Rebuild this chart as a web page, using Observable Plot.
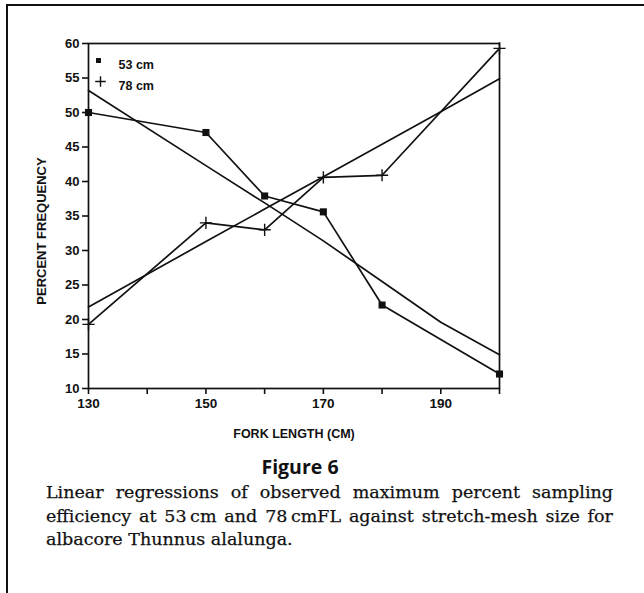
<!DOCTYPE html>
<html>
<head>
<meta charset="utf-8">
<script src="https://cdn.jsdelivr.net/npm/d3@7"></script>
<script src="https://cdn.jsdelivr.net/npm/@observablehq/plot@0.6"></script>
<style>
  html, body { margin: 0; padding: 0; background: #fff; }
  #page { position: relative; width: 644px; height: 593px; overflow: hidden; background: #fff; }
  #frame { position: absolute; left: 6px; top: 4px; width: 640px; height: 600px;
           border-top: 2.5px solid #111; border-left: 2.5px solid #111; }
  #chart { position: absolute; left: 0; top: 0; }
  #fig { position: absolute; left: 200px; width: 200px; top: 454px; text-align: center;
         font-family: "Open Sans", sans-serif; font-weight: bold; font-size: 19.5px; line-height: 26px; color: #111; }
  #caption { position: absolute; left: 46px; width: 567px; top: 481px;
             font-family: "DejaVu Serif", serif; font-size: 17.5px; line-height: 23.5px; color: #111;
             -webkit-text-stroke: 0.25px #111; }
  #caption div { text-align: justify; text-align-last: justify; white-space: nowrap; }
  #caption div.last { text-align-last: left; }
</style>
</head>
<body>
<div id="page">
  <div id="frame"></div>
  <div id="chart"></div>
  <div id="fig">Figure 6</div>
  <div id="caption"></div>
</div>
<script>
// ---- data ----
const lengths = [130, 150, 160, 170, 180, 200];
const obs53 = [50.0, 47.1, 37.9, 35.6, 22.1, 12.1];
const obs78 = [19.3, 34.0, 33.0, 40.6, 40.9, 59.3];
const fitLengths = [130, 150, 160, 170, 180, 190, 200];
const fit53 = [53.2, 42.3, 36.9, 31.4, 25.5, 19.6, 14.9];
const fit78 = [21.8, 31.3, 36.0, 40.7, 45.4, 50.1, 54.9];
const xTicks = [130, 140, 150, 160, 170, 180, 190, 200];
const xTickLabels = [130, 150, 170, 190];
const yTicks = [10, 15, 20, 25, 30, 35, 40, 45, 50, 55, 60];
const seriesNames = ["53 cm", "78 cm"];
const xLabel = "FORK LENGTH (CM)";
const yLabel = "PERCENT FREQUENCY";
const captionLines = [
  "Linear regressions of observed maximum percent sampling",
  "efficiency at 53\u2009cm and 78\u2009cmFL against stretch-mesh size for",
  "albacore Thunnus alalunga."
];

const obs53Data = lengths.map((x, i) => ({x, y: obs53[i]}));
const obs78Data = lengths.map((x, i) => ({x, y: obs78[i]}));
const fit53Data = fitLengths.map((x, i) => ({x, y: fit53[i]}));
const fit78Data = fitLengths.map((x, i) => ({x, y: fit78[i]}));

const ink = "#111";

const chart = Plot.plot({
  width: 644,
  height: 460,
  marginLeft: 88,
  marginRight: 145,
  marginTop: 43,
  marginBottom: 72,
  style: {fontFamily: "'Liberation Sans', Arial, sans-serif", fontSize: "13px", fontWeight: "bold", color: ink, background: "transparent"},
  x: {domain: [130, 200]},
  y: {domain: [10, 60]},
  marks: [
    Plot.frame({stroke: ink, strokeWidth: 1.7}),
    Plot.axisY({ticks: yTicks, tickSize: 6, tickPadding: 3, strokeWidth: 1.6, label: null, fill: ink, fontSize: 13, letterSpacing: "-0.3px"}),
    Plot.axisX({ticks: xTicks, tickSize: 6, tickPadding: 4, strokeWidth: 1.6, label: null, fill: ink, fontSize: 13.5,
                tickFormat: d => xTickLabels.includes(d) ? String(d) : "", letterSpacing: "-0.4px"}),
    Plot.text([xLabel], {frameAnchor: "bottom", textAnchor: "middle", dx: 0, dy: 49, text: d => d, fill: ink, fontSize: 12.5, letterSpacing: "-0.6px"}),
    Plot.text([yLabel], {frameAnchor: "left", textAnchor: "middle", dx: -47, dy: 15, rotate: -90, text: d => d, fill: ink, fontSize: 13, letterSpacing: "-0.1px"}),
    Plot.line(fit53Data, {x: "x", y: "y", stroke: ink, strokeWidth: 1.7}),
    Plot.line(fit78Data, {x: "x", y: "y", stroke: ink, strokeWidth: 1.7}),
    Plot.line(obs53Data, {x: "x", y: "y", stroke: ink, strokeWidth: 1.7}),
    Plot.line(obs78Data, {x: "x", y: "y", stroke: ink, strokeWidth: 1.7}),
    Plot.dot(obs53Data, {x: "x", y: "y", symbol: "square", r: 4, fill: ink, stroke: "none"}),
    Plot.dot(obs78Data, {x: "x", y: "y", symbol: "plus", r: 4, stroke: ink, strokeWidth: 1.4}),
    // legend
    Plot.dot([seriesNames[0]], {frameAnchor: "top-left", dx: 10, dy: 17, symbol: "square", r: 2.8, fill: ink, stroke: "none"}),
    Plot.dot([seriesNames[1]], {frameAnchor: "top-left", dx: 12, dy: 38, symbol: "plus", r: 3.5, stroke: ink, strokeWidth: 1.4}),
    Plot.text([seriesNames[0]], {frameAnchor: "top-left", dx: 30, dy: 17, text: d => d, textAnchor: "start", fill: ink, fontSize: 12.5, letterSpacing: "-0.8px"}),
    Plot.text([seriesNames[1]], {frameAnchor: "top-left", dx: 30, dy: 38, text: d => d, textAnchor: "start", fill: ink, fontSize: 12.5, letterSpacing: "-0.8px"})
  ]
});
document.getElementById("chart").appendChild(chart);

const cap = document.getElementById("caption");
captionLines.forEach((t, i) => {
  const d = document.createElement("div");
  d.textContent = t;
  if (i === captionLines.length - 1) d.className = "last";
  cap.appendChild(d);
});
</script>
</body>
</html>
